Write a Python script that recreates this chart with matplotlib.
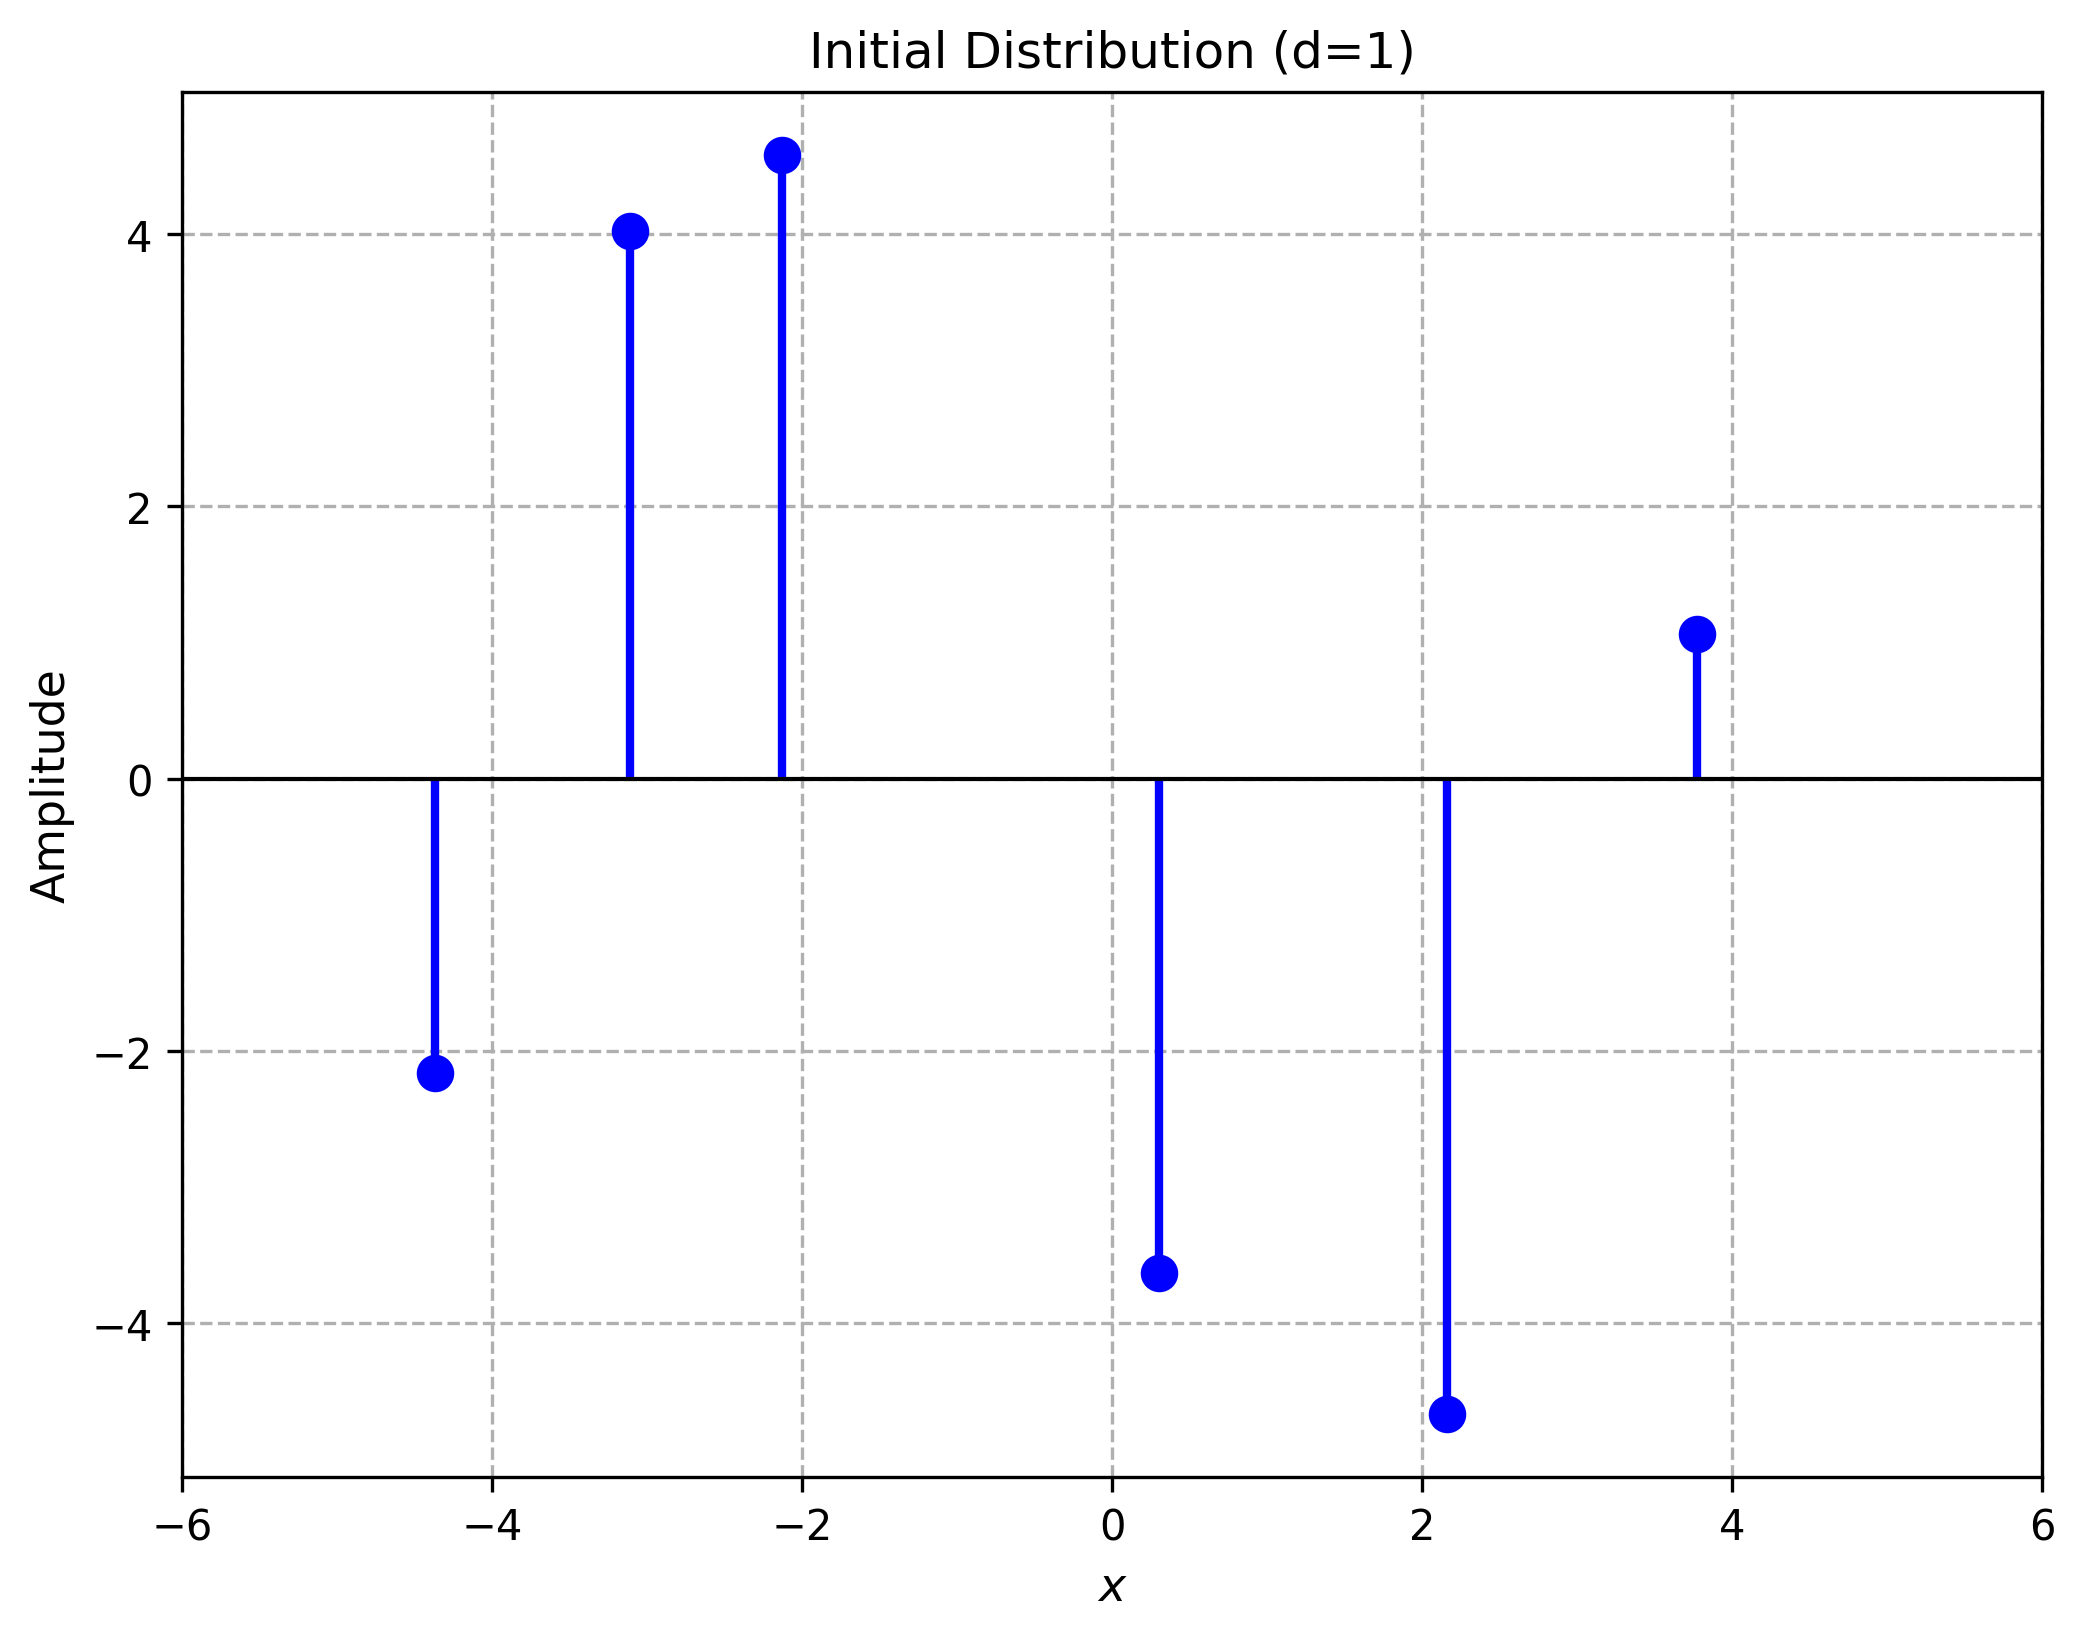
import matplotlib
matplotlib.use('Agg')
import matplotlib.pyplot as plt

# positions and amplitudes of the initial spikes
x_pos = [-4.370, -3.112, -2.129, 0.303, 2.161, 3.774]
amps = [-2.165, 4.021, 4.584, -3.634, -4.667, 1.065]

fig = plt.figure(figsize=(2085 / 300, 1639 / 300), dpi=300)
ax = fig.add_axes([0.0873, 0.0982, 0.8921, 0.8452])

markerline, stemlines, baseline = ax.stem(x_pos, amps, linefmt='b-', markerfmt='bo', basefmt=' ')
plt.setp(stemlines, linewidth=2)
plt.setp(markerline, markersize=8)
ax.axhline(0, color='k', linewidth=1)

ax.set_xlim(-6, 6)
ax.set_title('Initial Distribution (d=1)')
ax.set_xlabel('$x$', fontsize=11)
ax.set_ylabel('Amplitude', fontsize=11)
ax.grid(True, linestyle='--', color='#b0b0b0', linewidth=0.8)
ax.set_axisbelow(True)

fig.savefig('out.png', dpi=300)
